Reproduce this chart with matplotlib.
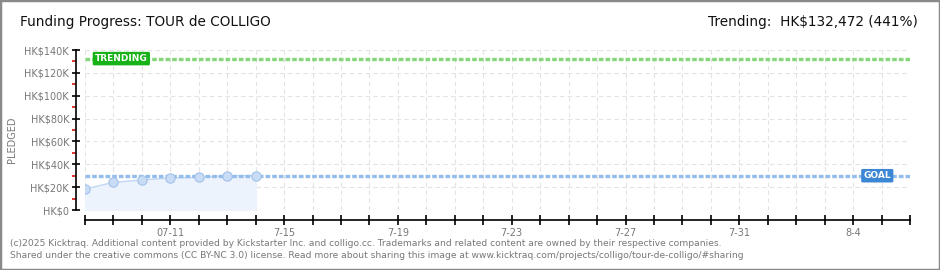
import matplotlib
matplotlib.use("Agg")
import matplotlib.pyplot as plt
from matplotlib.patches import Rectangle
from matplotlib.ticker import MultipleLocator, FuncFormatter

# data (days since 07-08)
days = [0, 1, 2, 3, 4, 5, 6]
pledged = [18400, 24200, 26300, 28000, 28600, 30100, 30100]
goal = 30000
trending = 132472
x_end = 29
tick_days = [3, 7, 11, 15, 19, 23, 27]
tick_labels = ["07-11", "7-15", "7-19", "7-23", "7-27", "7-31", "8-4"]

title = "Funding Progress: TOUR de COLLIGO"
right_title = "Trending:  HK$132,472 (441%)"
footer = [
    "(c)2025 Kicktraq. Additional content provided by Kickstarter Inc. and colligo.cc. "
    "Trademarks and related content are owned by their respective companies.",
    "Shared under the creative commons (CC BY-NC 3.0) license. Read more about sharing "
    "this image at www.kicktraq.com/projects/colligo/tour-de-colligo/#sharing",
]

W, H = 940, 270
fig = plt.figure(figsize=(W / 100, H / 100), dpi=100)
fig.patch.set_facecolor("white")
fig.add_artist(Rectangle((0, 0), 1, 1, transform=fig.transFigure, fill=False,
                         edgecolor="#8a8a8a", linewidth=2.5))

ax = fig.add_axes([85 / W, 60 / H, 825 / W, 160 / H])
ax.set_xlim(0, x_end)
ax.set_ylim(0, 140000)

# grid
for d in range(x_end + 1):
    ax.axvline(d, color="#e3e3e3", lw=0.8, ls=(0, (4, 3)), zorder=0)
for v in range(0, 140001, 20000):
    ax.axhline(v, color="#e3e3e3", lw=0.8, ls=(0, (4, 3)), zorder=0)

# pledged series
ax.fill_between(days, pledged, 0, color="#edf3fc", zorder=1)
ax.plot(days, pledged, color="#c2d7f3", lw=1, zorder=2)
ax.scatter(days, pledged, s=45, facecolor="#c9dcf6", edgecolor="#a3c1ea",
           linewidth=0.8, zorder=3)

# goal / trending lines
ax.axhline(goal, color="#93bdec", lw=2.4, ls=(0, (1.4, 0.6)), zorder=2)
ax.axhline(trending, color="#86d67c", lw=2.4, ls=(0, (1.4, 0.6)), zorder=2)

ax.text(0.35, trending, "TRENDING", color="white", fontsize=6.5, fontweight="bold",
        va="center", ha="left", zorder=5,
        bbox=dict(boxstyle="round,pad=0.25,rounding_size=0.15", fc="#18b318", ec="none"))
ax.text(27.85, goal, "GOAL", color="white", fontsize=6.5, fontweight="bold",
        va="center", ha="center", zorder=5,
        bbox=dict(boxstyle="round,pad=0.25,rounding_size=0.15", fc="#3b86d5", ec="none"))

# axes styling
for s in ["top", "right"]:
    ax.spines[s].set_visible(False)
ax.spines["left"].set_position(("outward", 6.5))
ax.spines["bottom"].set_position(("outward", 7.2))
ax.spines["left"].set_linewidth(1.2)
ax.spines["bottom"].set_linewidth(1.2)
ax.spines["left"].set_bounds(0, 140000)
ax.spines["bottom"].set_bounds(0, x_end)

ax.yaxis.set_major_locator(MultipleLocator(20000))
ax.yaxis.set_minor_locator(MultipleLocator(10000))
ax.yaxis.set_major_formatter(FuncFormatter(lambda v, p: f"HK${int(v / 1000)}K" if v else "HK$0"))
ax.tick_params(axis="y", which="major", direction="inout", length=6, width=1.2,
               labelsize=7, labelcolor="#777777", pad=2)
ax.tick_params(axis="y", which="minor", direction="out", length=3, width=1.2,
               color="#dd1111")

ax.set_xticks(range(x_end + 1))
ax.set_xticklabels([tick_labels[tick_days.index(d)] if d in tick_days else ""
                    for d in range(x_end + 1)])
ax.tick_params(axis="x", direction="inout", length=7, width=1.2,
               labelsize=7, labelcolor="#777777", pad=2)

fig.text(12 / W, 130 / H, "PLEDGED", rotation=90, fontsize=7, color="#777777",
         ha="center", va="center")

fig.text(20 / W, 1 - 22 / H, title, fontsize=9.8, color="#111111", va="center", ha="left")
fig.text(918 / W, 1 - 22 / H, right_title, fontsize=9.8, color="#111111",
         va="center", ha="right")

fig.text(10 / W, 1 - 243 / H, footer[0], fontsize=6.6, color="#777777", va="center")
fig.text(10 / W, 1 - 256 / H, footer[1], fontsize=6.6, color="#777777", va="center")

fig.savefig("out.png", dpi=100, facecolor="white")
